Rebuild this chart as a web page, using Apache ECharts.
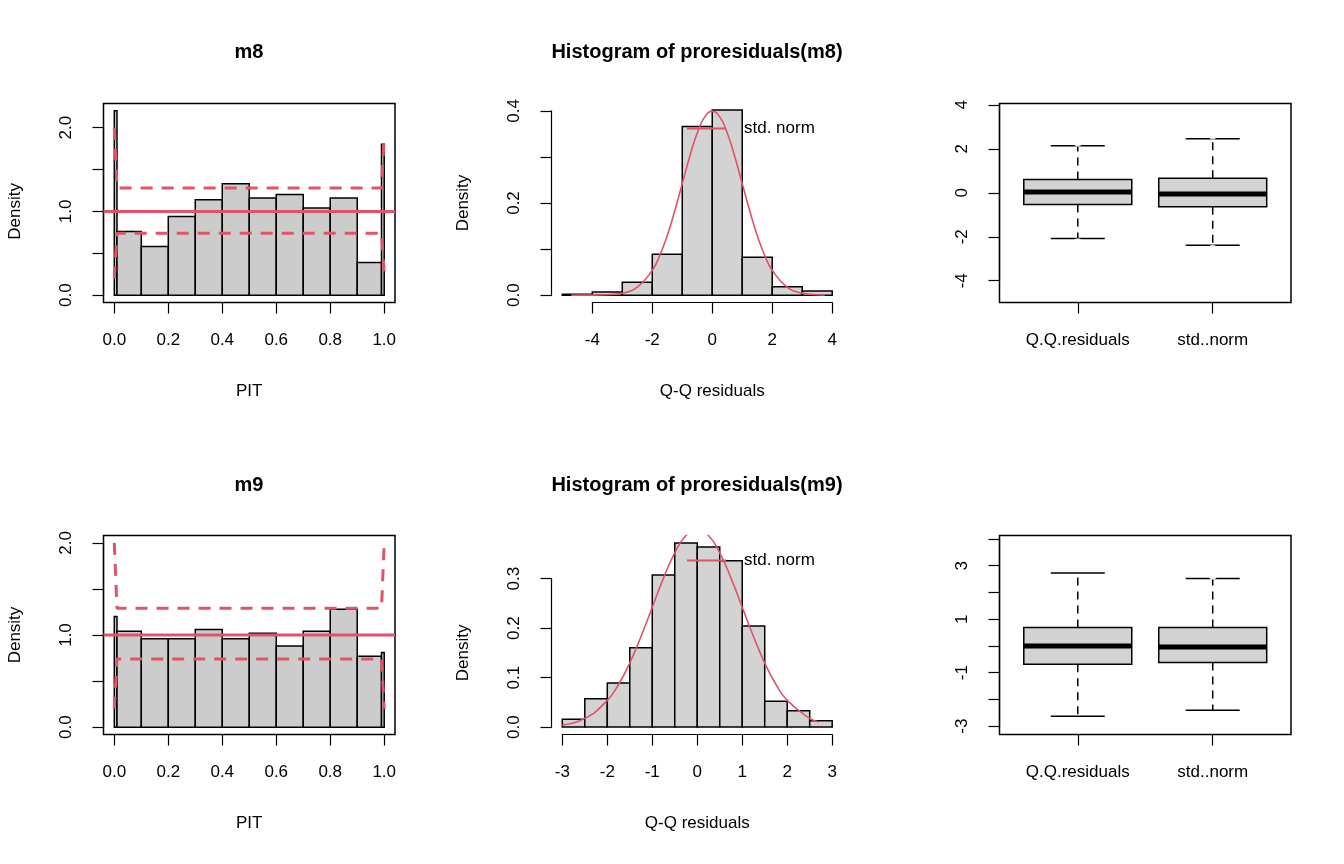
<!DOCTYPE HTML>
<html>
<head>
<meta charset="utf-8"/>
<title>proresiduals</title>
<script src="https://cdn.jsdelivr.net/npm/echarts@6/dist/echarts.min.js"></script>
<style>
  * { padding: 0; margin: 0; }
  body { background: #fff; }
  #chart { width: 1344px; height: 864px; }
</style>
</head>
<body>
<div id="chart"></div>
<script>
// ---- data ----
const pitBreaks = [0, 0.01, 0.1, 0.2, 0.3, 0.4, 0.5, 0.6, 0.7, 0.8, 0.9, 0.99, 1];
const m8PitDens = [2.2, 0.76, 0.58, 0.94, 1.14, 1.33, 1.16, 1.20, 1.04, 1.16, 0.39, 1.80];
const m9PitDens = [1.2, 1.04, 0.96, 0.96, 1.06, 0.96, 1.02, 0.88, 1.04, 1.28, 0.77, 0.81];
const bandX = [0, 0.01, 0.99, 1];
const m8Upper = [2.0, 1.28, 1.28, 1.9];
const m8Lower = [0.2, 0.74, 0.74, 0.27];
const m9Upper = [2.0, 1.29, 1.29, 2.0];
const m9Lower = [0.2, 0.74, 0.74, 0.2];

const m8ResBreaks = [-5, -4, -3, -2, -1, 0, 1, 2, 3, 4];
const m8ResDens = [0.002, 0.007, 0.028, 0.089, 0.366, 0.402, 0.082, 0.018, 0.009];
const m9ResBreaks = [-3, -2.5, -2, -1.5, -1, -0.5, 0, 0.5, 1, 1.5, 2, 2.5, 3];
const m9ResDens = [0.016, 0.057, 0.089, 0.160, 0.307, 0.372, 0.364, 0.336, 0.204, 0.052, 0.033, 0.013];

const normX8 = [-4.7, -4, -3.5, -3, -2.5, -2, -1.75, -1.5, -1.25, -1, -0.75, -0.5, -0.25, 0, 0.25, 0.5, 0.75, 1, 1.25, 1.5, 1.75, 2, 2.5, 3, 3.5, 3.75];
const normY8 = [0.0001, 0.0001, 0.0009, 0.0044, 0.0175, 0.054, 0.086, 0.1295, 0.183, 0.242, 0.301, 0.352, 0.387, 0.399, 0.387, 0.352, 0.301, 0.242, 0.183, 0.1295, 0.086, 0.054, 0.0175, 0.0044, 0.0009, 0.0004];
const normX9 = [-3, -2.5, -2, -1.75, -1.5, -1.25, -1, -0.75, -0.5, -0.25, 0, 0.25, 0.5, 0.75, 1, 1.25, 1.5, 1.75, 2, 2.5, 2.7];
const normY9 = [0.0044, 0.0175, 0.054, 0.086, 0.1295, 0.183, 0.242, 0.301, 0.352, 0.387, 0.399, 0.387, 0.352, 0.301, 0.242, 0.183, 0.1295, 0.086, 0.054, 0.0175, 0.0104];

const boxNames = ['Q.Q.residuals', 'std..norm'];
// [pos, lower whisker, Q1, median, Q3, upper whisker]
const m8Box = [[1, -2.08, -0.53, 0.03, 0.60, 2.14], [2, -2.39, -0.63, -0.06, 0.66, 2.46]];
const m8Out1 = [3.69, 3.43, 3.28, 3.16, 2.75, 2.6, 2.45, 2.3, -2.27, -2.39, -2.54, -2.84, -2.99, -3.14, -3.29, -3.44, -4.6];
const m8Out2 = [3.76, 2.63, -2.57, -2.8, -2.99];
const m9Box = [[1, -2.63, -0.68, 0.0, 0.69, 2.73], [2, -2.4, -0.62, -0.04, 0.69, 2.52]];
const m9Out1 = [-3.0];
const m9Out2 = [3.83, 2.64, -2.61, -2.91, -3.03];

// ---- layout (R-style panels) ----
const RED = '#DF536B';
const FONT = 'Liberation Sans';
const colL = [103.5, 551.5, 999.5], colR = [395, 843, 1291];
const rowT = [103.5, 535.5], rowB = [302.5, 734.5];

const grids = [], xAxes = [], yAxes = [], series = [];

function hidden(gi, min, max) {
  return { gridIndex: gi, type: 'value', min: min, max: max, show: false };
}

// builds one panel: data grid + grid for x axis + grid for y axis
function panel(c, r, xr, yr, xt, yt, opt) {
  const L = colL[c], R = colR[c], T = rowT[r], B = rowB[r];
  const gi = grids.length;
  grids.push({ left: L, top: T, width: R - L, height: B - T, show: !!opt.box,
    borderColor: '#000', borderWidth: 1.5, backgroundColor: 'transparent' });
  xAxes.push(hidden(gi, xr[0], xr[1]));
  yAxes.push(hidden(gi, yr[0], yr[1]));

  const px = v => L + (v - xr[0]) / (xr[1] - xr[0]) * (R - L);
  const py = v => B - (v - yr[0]) / (yr[1] - yr[0]) * (B - T);
  const tickStyle = { show: true, length: 11, lineStyle: { color: '#000', width: 1.2 } };
  const lbl = { color: '#000', fontFamily: FONT, fontSize: 17, margin: 29 };

  // x axis
  grids.push({ left: px(xt[0]), top: T, width: px(xt[1]) - px(xt[0]), height: B - T });
  xAxes.push({ gridIndex: gi + 1, type: 'value', min: xt[0], max: xt[1], interval: xt[2],
    position: 'bottom', splitLine: { show: false },
    axisLine: { show: opt.xLine !== false, onZero: false, lineStyle: { color: '#000', width: 1.2 } },
    axisTick: tickStyle,
    axisLabel: Object.assign({ formatter: opt.xFmt, showMinLabel: true, showMaxLabel: true, hideOverlap: false }, lbl),
    name: opt.xName || '', nameLocation: 'middle', nameGap: 80,
    nameTextStyle: { color: '#000', fontFamily: FONT, fontSize: 17 } });
  yAxes.push(hidden(gi + 1, 0, 1));

  // y axis
  grids.push({ left: L, top: py(yt[1]), width: R - L, height: py(yt[0]) - py(yt[1]) });
  xAxes.push(hidden(gi + 2, 0, 1));
  yAxes.push({ gridIndex: gi + 2, type: 'value', min: yt[0], max: yt[1], interval: yt[2],
    position: 'left', splitLine: { show: false },
    axisLine: { show: true, onZero: false, lineStyle: { color: '#000', width: 1.2 } },
    axisTick: tickStyle,
    axisLabel: Object.assign({ rotate: 90, formatter: opt.yFmt, showMinLabel: true, showMaxLabel: true, hideOverlap: false }, lbl),
    name: opt.yName || '', nameLocation: 'middle', nameGap: 80, nameRotate: 90,
    nameTextStyle: { color: '#000', fontFamily: FONT, fontSize: 17 } });
  return gi;
}

function histItems(breaks, dens) {
  return dens.map((d, i) => [breaks[i], breaks[i + 1], d]);
}
function histSeries(gi, breaks, dens, fill) {
  series.push({
    type: 'custom', xAxisIndex: gi, yAxisIndex: gi, silent: true,
    data: histItems(breaks, dens),
    encode: { x: [0, 1], y: 2 },
    renderItem: function (params, api) {
      const p0 = api.coord([api.value(0), api.value(2)]);
      const p1 = api.coord([api.value(1), 0]);
      return { type: 'rect', shape: { x: p0[0], y: p0[1], width: p1[0] - p0[0], height: p1[1] - p0[1] },
        style: { fill: fill, stroke: '#000', lineWidth: 1.5 } };
    }
  });
}
function lineSeries(gi, xs, ys, style, name) {
  series.push({ type: 'line', name: name, xAxisIndex: gi, yAxisIndex: gi, silent: true,
    data: xs.map((x, i) => [x, ys[i]]), symbol: 'none', smooth: !!style.smooth, clip: true,
    lineStyle: Object.assign({ color: RED }, style.line), itemStyle: { color: RED } });
}
function boxSeries(gi, boxes, out1, out2) {
  series.push({
    type: 'custom', xAxisIndex: gi, yAxisIndex: gi, silent: true, data: boxes,
    renderItem: function (params, api) {
      const x = api.value(0);
      const c = i => api.coord([x, api.value(i)]);
      const xl = api.coord([x - 0.4, 0])[0], xr = api.coord([x + 0.4, 0])[0];
      const cl = api.coord([x - 0.2, 0])[0], cr = api.coord([x + 0.2, 0])[0];
      const lo = c(1), q1 = c(2), md = c(3), q3 = c(4), hi = c(5);
      const ln = (x1, y1, x2, y2, w, dash) => ({ type: 'line', shape: { x1: x1, y1: y1, x2: x2, y2: y2 },
        style: { stroke: '#000', lineWidth: w, lineDash: dash || null } });
      return { type: 'group', children: [
        ln(q3[0], q3[1], hi[0], hi[1], 1.5, [8, 6]),
        ln(q1[0], q1[1], lo[0], lo[1], 1.5, [8, 6]),
        ln(cl, hi[1], cr, hi[1], 1.5),
        ln(cl, lo[1], cr, lo[1], 1.5),
        { type: 'rect', shape: { x: xl, y: q3[1], width: xr - xl, height: q1[1] - q3[1] },
          style: { fill: '#D3D3D3', stroke: '#000', lineWidth: 1.5 } },
        ln(xl, md[1], xr, md[1], 5)
      ] };
    }
  });
  series.push({ type: 'scatter', xAxisIndex: gi, yAxisIndex: gi, silent: true,
    data: out1.map(v => [1, v]).concat(out2.map(v => [2, v])),
    symbol: 'emptyCircle', symbolSize: 7, itemStyle: { color: '#fff', borderColor: '#000', borderWidth: 1.5 } });
}

const f1 = v => v.toFixed(1);
const pitY = v => (Math.abs(v - Math.round(v)) < 1e-6 ? v.toFixed(1) : '');
const boxX = v => boxNames[Math.round(v) - 1];

// top row
let g = panel(0, 0, [-0.04, 1.04], [-0.088, 2.288], [0, 1, 0.2], [0, 2, 0.5],
  { box: true, xFmt: f1, yFmt: pitY, xName: 'PIT', yName: 'Density' });
histSeries(g, pitBreaks, m8PitDens, '#CCCCCC');
lineSeries(g, [-0.04, 1.04], [1, 1], { line: { width: 3 } });
lineSeries(g, bandX, m8Upper, { line: { width: 3, type: [12, 9] } });
lineSeries(g, bandX, m8Lower, { line: { width: 3, type: [12, 9] } });

g = panel(1, 0, [-5.36, 4.36], [-0.016, 0.416], [-4, 4, 2], [0, 0.4, 0.1],
  { xFmt: v => String(v), yFmt: v => (Math.round(v * 10) % 2 === 0 ? v.toFixed(1) : ''),
    xName: 'Q-Q residuals', yName: 'Density' });
histSeries(g, m8ResBreaks, m8ResDens, '#D3D3D3');
lineSeries(g, normX8, normY8, { smooth: 0.3, line: { width: 1.6 } }, 'std. norm');

g = panel(2, 0, [0.42, 2.58], [-4.99, 4.06], [1, 2, 1], [-4, 4, 2],
  { box: true, xLine: false, xFmt: boxX, yFmt: v => String(v) });
boxSeries(g, m8Box, m8Out1, m8Out2);

// bottom row
g = panel(0, 1, [-0.04, 1.04], [-0.08, 2.08], [0, 1, 0.2], [0, 2, 0.5],
  { box: true, xFmt: f1, yFmt: pitY, xName: 'PIT', yName: 'Density' });
histSeries(g, pitBreaks, m9PitDens, '#CCCCCC');
lineSeries(g, [-0.04, 1.04], [1, 1], { line: { width: 3 } });
lineSeries(g, bandX, m9Upper, { line: { width: 3, type: [12, 9] } });
lineSeries(g, bandX, m9Lower, { line: { width: 3, type: [12, 9] } });

g = panel(1, 1, [-3.24, 3.24], [-0.015, 0.387], [-3, 3, 1], [0, 0.3, 0.1],
  { xFmt: v => String(v), yFmt: f1, xName: 'Q-Q residuals', yName: 'Density' });
histSeries(g, m9ResBreaks, m9ResDens, '#D3D3D3');
lineSeries(g, normX9, normY9, { smooth: 0.3, line: { width: 1.6 } }, 'std. norm');

g = panel(2, 1, [0.42, 2.58], [-3.31, 4.13], [1, 2, 1], [-3, 4, 1],
  { box: true, xLine: false, xFmt: boxX, yFmt: v => (Math.abs(v % 2) === 1 ? String(v) : '') });
boxSeries(g, m9Box, m9Out1, m9Out2);

const titleStyle = { color: '#000', fontFamily: FONT, fontSize: 20, fontWeight: 'bold' };
const titles = [
  ['m8', 249, 42], ['Histogram of proresiduals(m8)', 697, 42],
  ['m9', 249, 475], ['Histogram of proresiduals(m9)', 697, 475]
].map(t => ({ text: t[0], left: t[1], top: t[2], textAlign: 'center', textStyle: titleStyle, padding: 0 }));

const legendBase = { data: ['std. norm'], icon: 'rect', itemWidth: 39, itemHeight: 2, padding: 0,
  textStyle: { color: '#000', fontFamily: FONT, fontSize: 17, padding: [0, 0, 0, 13] }, selectedMode: false };

const chart = echarts.init(document.getElementById('chart'));
chart.setOption({
  animation: false,
  backgroundColor: '#fff',
  title: titles,
  legend: [Object.assign({ left: 687, top: 120 }, legendBase), Object.assign({ left: 687, top: 552 }, legendBase)],
  grid: grids,
  xAxis: xAxes,
  yAxis: yAxes,
  series: series
});
</script>
</body>
</html>
